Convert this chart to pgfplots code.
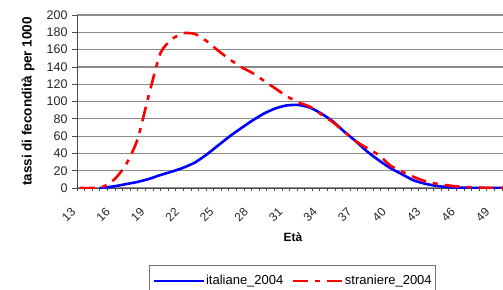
\documentclass[border=0pt]{standalone}
\usepackage{fontspec}
\setmainfont{Liberation Sans}
\usepackage{pgfplots}
\pgfplotsset{compat=1.18}
\begin{document}
\begin{tikzpicture}
\begin{axis}[
  at={(0,0)}, anchor=south west,
  scale only axis, width=426pt, height=173pt,
  xmin=12.74, xmax=49.8, ymin=0, ymax=200,
  axis x line=bottom, axis y line=left,
  axis line style={draw=black!70, line width=0.9pt, -},
  xtick={13,16,...,49},
  minor xtick={12.74,13.40,...,49.8},
  ytick={0,20,...,200},
  tick align=outside,
  major x tick style={draw=none},
  minor x tick style={draw=black!70, line width=0.6pt},
  minor tick length=3pt,
  major y tick style={draw=black!70, line width=0.7pt},
  major tick length=5pt,
  ymajorgrids,
  grid style={draw=black!45, line width=1.2pt},
  /pgf/number format/assume math mode=true,
  ticklabel style={text=black!85},
  xticklabel style={font=\fontsize{12}{13}\selectfont, xshift=-4pt, yshift=-14.5pt, rotate=45, anchor=east},
  yticklabel style={font=\fontsize{12.5}{14}\selectfont, xshift=-1pt},
  xlabel={Età},
  ylabel={tassi di fecondità per 1000},
  xlabel style={font=\bfseries\fontsize{12}{14}\selectfont, at={(axis description cs:0.507,-0.286)}, anchor=center},
  ylabel style={font=\bfseries\fontsize{13.5}{15}\selectfont, at={(axis description cs:-0.115,0.5)}, anchor=center},
  legend style={at={(axis description cs:0.169,-0.445)}, anchor=north west,
    legend columns=2, draw=black!55, line width=0.9pt,
    font=\fontsize{13}{15}\selectfont, inner xsep=3pt, inner ysep=8pt,
    nodes={inner xsep=1pt},
    /tikz/every even column/.append style={column sep=7pt}},
  legend image code/.code={\draw[#1] (0pt,0pt) -- (50pt,0pt);},
  clip=true,
]
\addplot[blue, line width=2.6pt, smooth, tension=0.4] coordinates {
(14.7,0)(15,0.3)(16,2)(17,4.5)(18,7)(19,10.5)(20,15)(21,19)(22,23.5)(23,29.5)(24,38.5)(25,49)(26,59.5)(27,69)(28,78)(29,86)(30,92)(31,95.5)(32,96)(33,93)(34,86)(35,77)(36,65)(37,54)(38,42)(39,32)(40,23)(41,16)(42,9)(43,5)(44,2.5)(45,1)(46,0.5)(47,0.2)(48,0)(49,0)(50,0)
};
\addlegendentry{italiane\_2004}
\addplot[red, line width=2.6pt, dash pattern=on 15pt off 7pt on 5pt off 7pt, smooth, tension=0.4] coordinates {
(13,0)(14,0)(15,1.5)(16,10)(17,27)(18,56)(19,108)(20,156)(21,172)(22,179)(23,178)(24,170)(25,159)(26,149)(27,140)(28,133)(29,124)(30,115)(31,106)(32,99)(33,94)(34,85)(35,76)(36,65)(37,54)(38,46)(39,38)(40,26)(41,19)(42,13)(43,8)(44,5)(45,3)(46,1.5)(47,0.8)(48,0.3)(49,0)(50,0)
};
\addlegendentry{straniere\_2004}
\end{axis}
\pgfresetboundingbox
\useasboundingbox (-77pt,-101pt) rectangle (426pt,188pt);
\end{tikzpicture}
\end{document}
